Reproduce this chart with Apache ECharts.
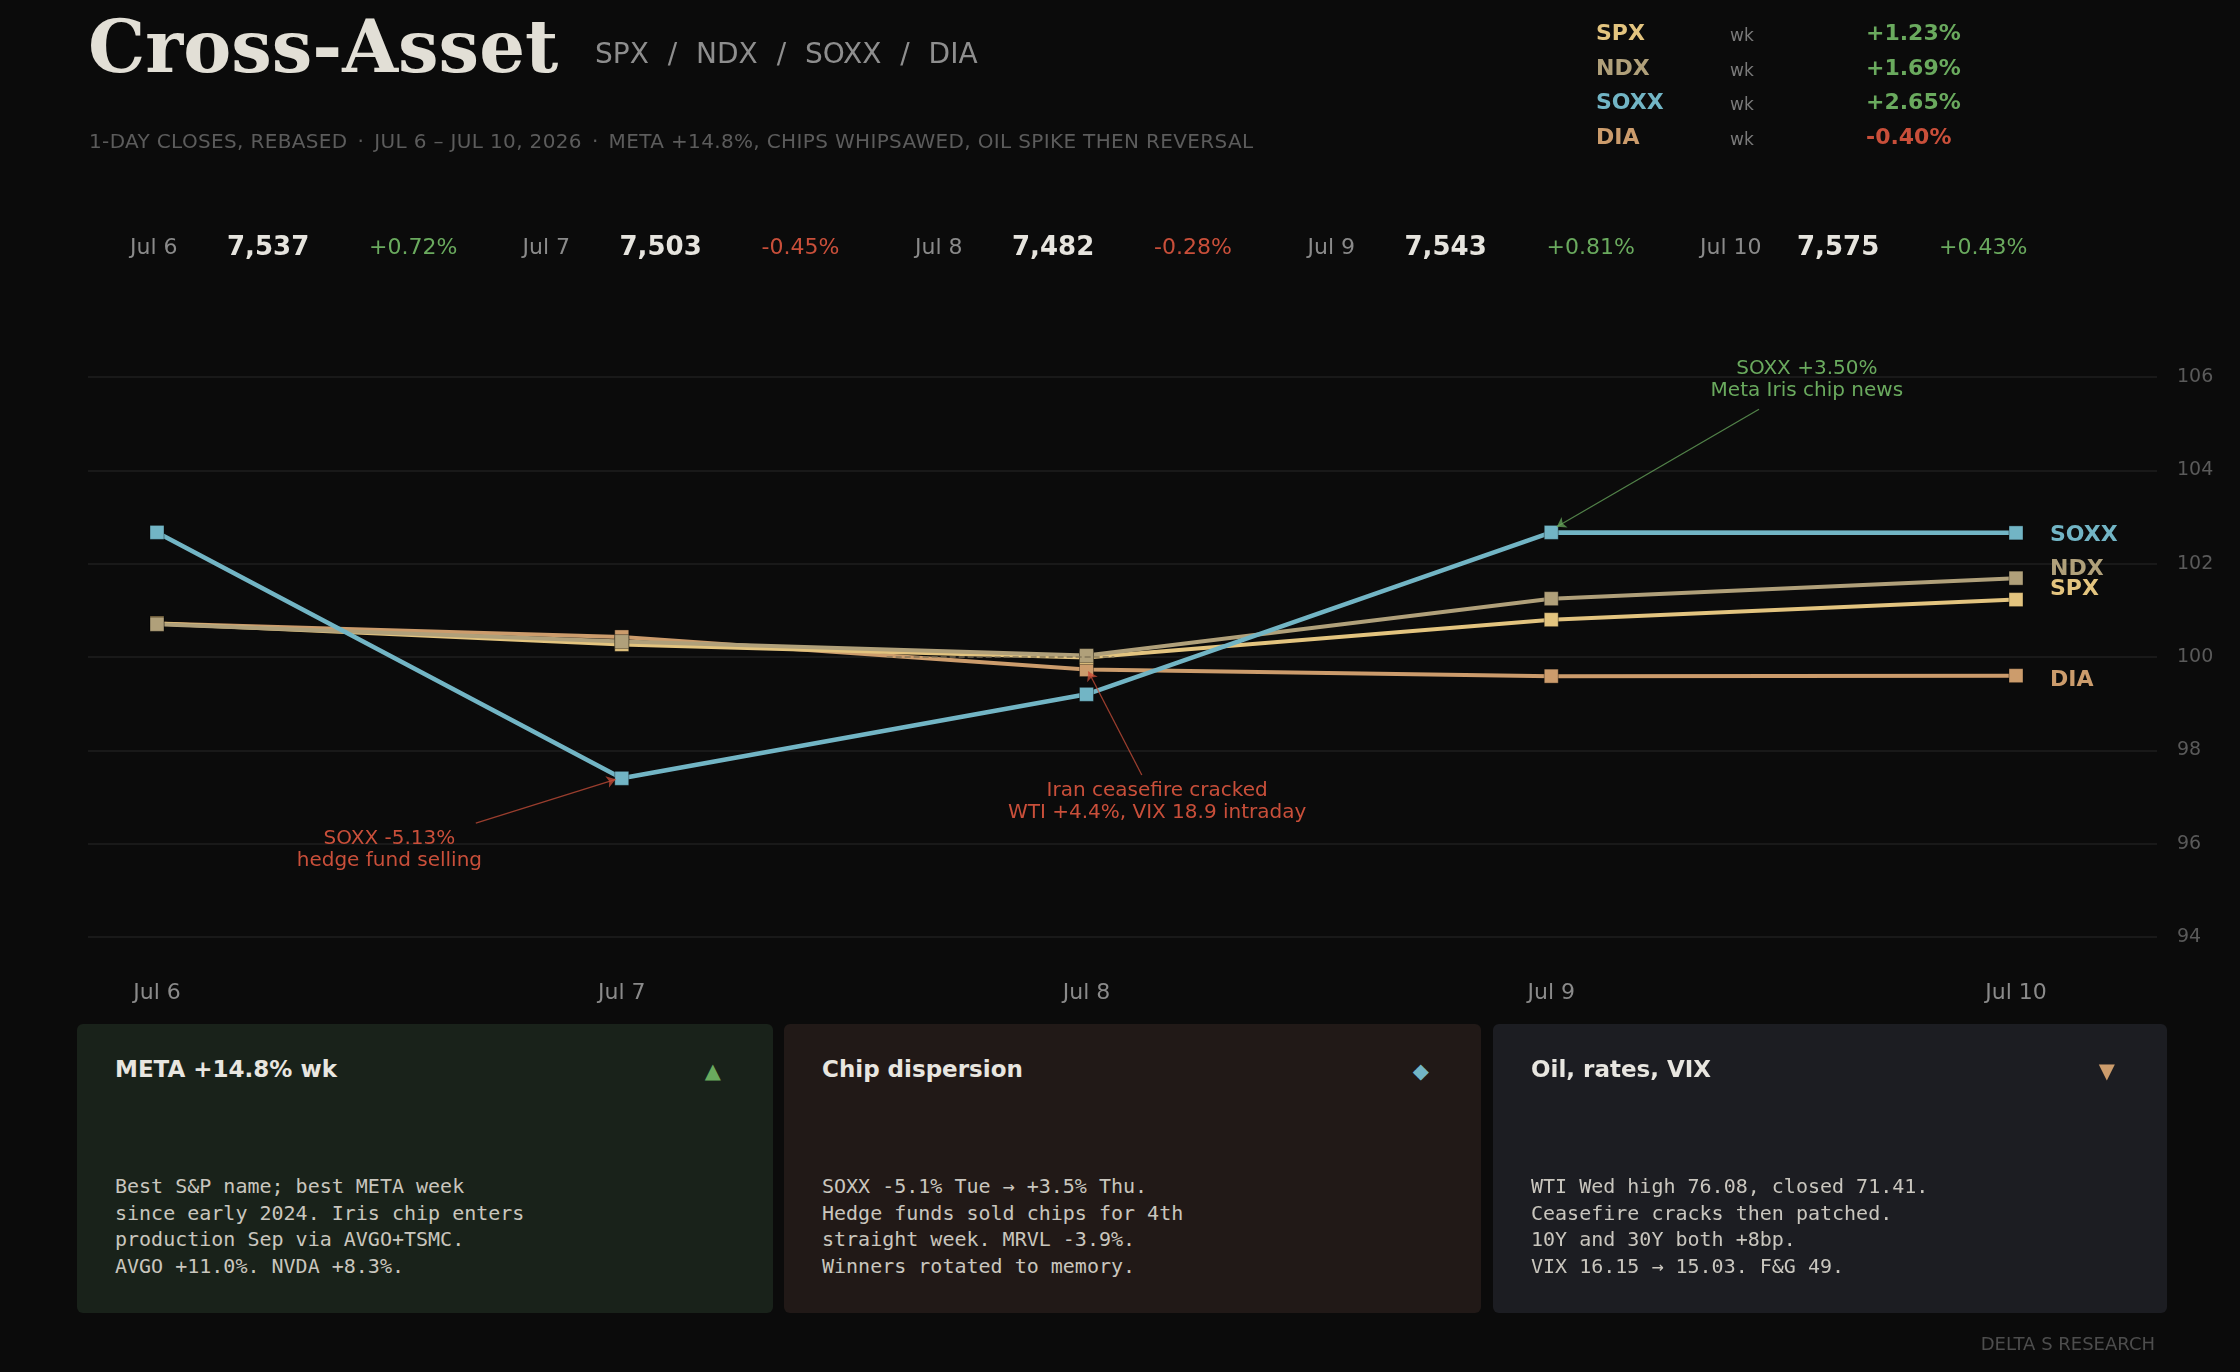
<!DOCTYPE html>
<html>
<head>
<meta charset="UTF-8">
<title>Cross-Asset</title>
<script src="https://cdn.jsdelivr.net/npm/echarts@6/dist/echarts.min.js"></script>
<style>
  body { margin:0; width:2240px; height:1372px; background:#0b0b0b; overflow:hidden;
         font-family:'DejaVu Sans', sans-serif; position:relative; }
  #chart { position:absolute; left:0; top:0; width:2240px; height:1372px; }
  .t { position:absolute; line-height:1; white-space:pre; }
  .card { position:absolute; top:1024px; height:289px; border-radius:6px; }
  .card .ttl { position:absolute; left:38px; top:34px; font-size:23px; font-weight:bold; color:#e8e6e0; line-height:1; }
  .card .ico { position:absolute; right:52px; top:37px; font-size:21px; line-height:1; }
  .card .body { position:absolute; left:38px; top:149px; font-family:'DejaVu Sans Mono', monospace;
                font-size:20px; line-height:26.7px; color:#c9c6be; white-space:pre; }
</style>
</head>
<body>
<div id="chart"></div>

<div class="t" style="left:88px;top:11px;font-family:'DejaVu Serif',serif;font-weight:bold;font-size:72px;color:#e2dfd6;">Cross-Asset</div>
<div class="t" style="left:595px;top:40px;font-size:28px;color:#8e8e8e;word-spacing:10px;">SPX / NDX / SOXX / DIA</div>
<div class="t" style="left:89px;top:131px;font-size:20px;color:#5c5c5c;letter-spacing:0.35px;">1-DAY CLOSES, REBASED<span style="margin:0 10px">·</span>JUL 6 – JUL 10, 2026<span style="margin:0 10px">·</span>META +14.8%, CHIPS WHIPSAWED, OIL SPIKE THEN REVERSAL</div>

<div id="stats"></div>
<div id="legend"></div>

<div class="card" style="left:77px;width:696px;background:#19221a;">
  <div class="ttl">META +14.8% wk</div>
  <div class="ico" style="color:#6aaa5e">▲</div>
  <div class="body">Best S&amp;P name; best META week
since early 2024. Iris chip enters
production Sep via AVGO+TSMC.
AVGO +11.0%. NVDA +8.3%.</div>
</div>
<div class="card" style="left:784px;width:697px;background:#211917;">
  <div class="ttl">Chip dispersion</div>
  <div class="ico" style="color:#72b5c5">◆</div>
  <div class="body">SOXX -5.1% Tue → +3.5% Thu.
Hedge funds sold chips for 4th
straight week. MRVL -3.9%.
Winners rotated to memory.</div>
</div>
<div class="card" style="left:1493px;width:674px;background:#1c1d22;">
  <div class="ttl">Oil, rates, VIX</div>
  <div class="ico" style="color:#cc9c6c">▼</div>
  <div class="body">WTI Wed high 76.08, closed 71.41.
Ceasefire cracks then patched.
10Y and 30Y both +8bp.
VIX 16.15 → 15.03. F&amp;G 49.</div>
</div>

<div class="t" style="right:85px;top:1335px;font-size:18px;color:#4d4d4d;">DELTA S RESEARCH</div>

<script>
// --- data ---
const days = ['Jul 6', 'Jul 7', 'Jul 8', 'Jul 9', 'Jul 10'];
const spx  = [100.72, 100.27, 99.99, 100.80, 101.23];
const ndx  = [100.70, 100.33, 100.03, 101.25, 101.69];
const soxx = [102.67, 97.40, 99.20, 102.67, 102.66];
const dia  = [100.72, 100.43, 99.73, 99.59, 99.60];

const spxCloses  = [7537, 7503, 7482, 7543, 7575];
const spxChanges = [0.72, -0.45, -0.28, 0.81, 0.43];

const tickers  = ['SPX', 'NDX', 'SOXX', 'DIA'];
const weekly   = [1.23, 1.69, 2.65, -0.40];

const yTicks = [94, 96, 98, 100, 102, 104, 106];

// --- colours ---
const C = { SPX: '#e3c47f', NDX: '#b0a07a', SOXX: '#72b5c5', DIA: '#cc9c6c' };
const green = '#6aaa5e', red = '#c94f3a';
const fmtPct = v => (v >= 0 ? '+' : '') + v.toFixed(2) + '%';

// stats strip
const stats = document.getElementById('stats');
days.forEach(function (d, i) {
  const x = 130 + i * 392.5;
  stats.innerHTML +=
    '<div class="t" style="left:' + x + 'px;top:236px;font-size:22px;color:#8a8a8a">' + d + '</div>' +
    '<div class="t" style="left:' + (x + 97) + 'px;top:233px;font-size:26px;font-weight:bold;color:#e6e4de">' +
      spxCloses[i].toLocaleString('en-US') + '</div>' +
    '<div class="t" style="left:' + (x + 239) + 'px;top:236px;font-size:22px;color:' +
      (spxChanges[i] >= 0 ? green : red) + '">' + fmtPct(spxChanges[i]) + '</div>';
});

// weekly legend
const legend = document.getElementById('legend');
tickers.forEach(function (t, i) {
  const y = 22 + i * 34.7;
  legend.innerHTML +=
    '<div class="t" style="left:1596px;top:' + y + 'px;font-size:22px;font-weight:bold;color:' + C[t] + '">' + t + '</div>' +
    '<div class="t" style="left:1730px;top:' + (y + 5) + 'px;font-size:17px;color:#7a7a7a">wk</div>' +
    '<div class="t" style="left:1866px;top:' + y + 'px;font-size:22px;font-weight:bold;color:' +
      (weekly[i] >= 0 ? green : red) + '">' + fmtPct(weekly[i]) + '</div>';
});

// annotations (positions in data units)
const notes = [
  { text: 'SOXX -5.13%\nhedge fund selling', color: red, at: [0.50, 95.86], from: [0.686, 96.44], to: [0.987, soxx[1] - 0.02] },
  { text: 'Iran ceasefire cracked\nWTI +4.4%, VIX 18.9 intraday', color: red, at: [2.152, 96.89], from: [2.119, 97.47], to: [2.004, dia[2] - 0.04] },
  { text: 'SOXX +3.50%\nMeta Iris chip news', color: green, at: [3.55, 105.93], from: [3.447, 105.31], to: [3.012, soxx[3] + 0.12] }
];

const FONT = 'DejaVu Sans';

function lineSeries(name, data, width, dy, z) {
  return {
    name: name,
    type: 'line',
    xAxisIndex: 0,
    yAxisIndex: 0,
    z: z,
    data: data.map(function (v, i) { return [i, v]; }),
    symbol: 'rect',
    symbolSize: 14,
    lineStyle: { color: C[name], width: width },
    itemStyle: { color: C[name], borderColor: 'rgba(0,0,0,0.35)', borderWidth: 1 },
    endLabel: {
      show: true,
      formatter: function () { return name; },
      color: C[name],
      fontFamily: FONT,
      fontSize: 22,
      fontWeight: 'bold',
      distance: 34,
      offset: [0, dy]
    }
  };
}

const series = [
  lineSeries('DIA', dia, 4, 5, 2),
  lineSeries('SPX', spx, 4, -10, 3),
  lineSeries('NDX', ndx, 4, -9, 3),
  lineSeries('SOXX', soxx, 4.5, 2, 4)
];

// markers for the notes hang off the SOXX series
series[3].markLine = {
  silent: true,
  symbol: ['none', 'arrow'],
  symbolSize: 9,
  label: { show: false },
  data: notes.map(function (n) {
    return [{ coord: n.from }, { coord: n.to, lineStyle: { color: n.color, width: 1.3, type: 'solid', opacity: 0.75 } }];
  }).concat([[
    { coord: [1.57, 100], symbol: 'none' },
    { coord: [2.06, 100], symbol: 'none', lineStyle: { color: '#7d7257', width: 1.5, type: 'dashed', opacity: 0.9 } }
  ]])
};
series[3].markPoint = {
  silent: true,
  symbol: 'circle',
  symbolSize: 1,
  itemStyle: { color: 'rgba(0,0,0,0)' },
  data: notes.map(function (n) {
    return {
      coord: n.at,
      label: {
        show: true, position: 'inside', formatter: n.text, color: n.color,
        fontFamily: FONT, fontSize: 20, lineHeight: 22, align: 'center'
      }
    };
  })
};

const chart = echarts.init(document.getElementById('chart'));
chart.setOption({
  backgroundColor: 'transparent',
  animation: false,
  grid: [
    { left: 157, top: 377, width: 1859, height: 560 },
    { left: 88, top: 377, width: 2069, height: 560 }
  ],
  xAxis: [
    {
      gridIndex: 0, type: 'value', min: 0, max: days.length - 1, interval: 1,
      axisLine: { show: false }, axisTick: { show: false }, splitLine: { show: false },
      axisLabel: {
        formatter: function (v) { return days[v]; },
        color: '#8a8a8a', fontSize: 22, fontFamily: FONT, margin: 45
      }
    },
    { gridIndex: 1, type: 'value', min: 0, max: 1, show: false }
  ],
  yAxis: [
    { gridIndex: 0, type: 'value', min: yTicks[0], max: yTicks[yTicks.length - 1], show: false },
    {
      gridIndex: 1, type: 'value', position: 'right',
      min: yTicks[0], max: yTicks[yTicks.length - 1], interval: yTicks[1] - yTicks[0],
      axisLine: { show: false }, axisTick: { show: false },
      splitLine: { lineStyle: { color: '#1f1f1f', width: 1.5 } },
      axisLabel: { color: '#5a5a5a', fontSize: 19, fontFamily: FONT, margin: 20 }
    }
  ],
  series: series
});
</script>
</body>
</html>
